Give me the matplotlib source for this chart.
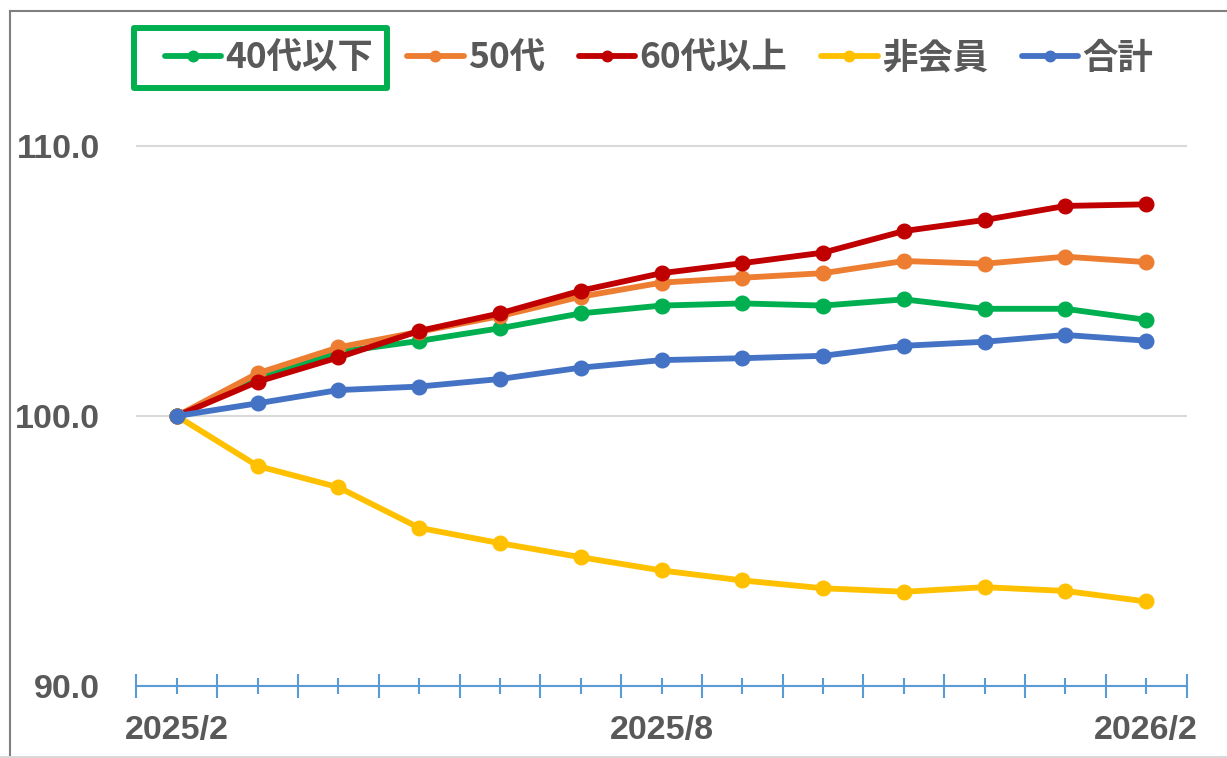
import matplotlib
matplotlib.use("Agg")
import matplotlib.pyplot as plt
import matplotlib.patches as patches
from matplotlib.lines import Line2D
from matplotlib.font_manager import FontProperties
import numpy as np

# ---- data ----
months = ['2025/2', '2025/3', '2025/4', '2025/5', '2025/6', '2025/7', '2025/8',
          '2025/9', '2025/10', '2025/11', '2025/12', '2026/1', '2026/2']
under40 = [100.0, 101.4, 102.37, 102.78, 103.25, 103.80, 104.09,
           104.17, 104.09, 104.32, 103.97, 103.97, 103.56]
age50 = [100.0, 101.58, 102.54, 103.12, 103.70, 104.42, 104.94,
         105.12, 105.29, 105.74, 105.64, 105.90, 105.70]
over60 = [100.0, 101.27, 102.17, 103.15, 103.80, 104.64, 105.29,
          105.66, 106.05, 106.85, 107.26, 107.78, 107.84]
non_member = [100.0, 98.15, 97.36, 95.86, 95.29, 94.77, 94.28,
              93.91, 93.62, 93.49, 93.66, 93.52, 93.13]
total = [100.0, 100.47, 100.96, 101.09, 101.37, 101.79, 102.07,
         102.14, 102.23, 102.60, 102.75, 103.00, 102.79]

series_names = ['40代以下', '50代', '60代以上', '非会員', '合計']
series_values = [under40, age50, over60, non_member, total]
series_colors = ['#00B050', '#ED7D31', '#C00000', '#FFC000', '#4472C4']
y_ticks = [90, 100, 110]

TEXT = '#595959'
AXIS_BLUE = '#5B9BD5'

W, H = 1227, 758
fig = plt.figure(figsize=(W / 100, H / 100), dpi=100)
fig.patch.set_facecolor('white')

# plot area in pixels: x from 136 to 1186, y=90 at 686, y=112 at 92
ax = fig.add_axes([136.4 / W, (H - 686) / H, 1050.2 / W, 594 / H])

x = np.arange(len(months))
for name, vals, col in zip(series_names, series_values, series_colors):
    ax.plot(x, vals, color=col, lw=4.2, marker='o', markersize=10.5,
            solid_joinstyle='round', solid_capstyle='round', label=name)

ax.set_xlim(-0.5, len(months) - 0.5)
ax.set_ylim(90, 112)

# y axis
ax.set_yticks(y_ticks, labels=[f'{v:.1f}' for v in y_ticks])
ax.tick_params(axis='y', length=0, pad=26, labelsize=24.5, labelcolor=TEXT)
for lab in ax.get_yticklabels():
    lab.set_fontfamily('Liberation Sans')
    lab.set_fontweight('bold')
ax.grid(axis='y', color='#D9D9D9', lw=1.5)

# x axis: major ticks on category edges, minor ticks at categories
ax.set_xticks(np.arange(-0.5, len(months), 1.0), labels=[])
xlabels = [m if i % 6 == 0 else '' for i, m in enumerate(months)]
ax.set_xticks(x, labels=xlabels, minor=True)
ax.tick_params(axis='x', which='major', direction='inout', length=17,
               width=1.5, color=AXIS_BLUE)
ax.tick_params(axis='x', which='minor', direction='inout', length=11.5,
               width=1.5, color=AXIS_BLUE, pad=15, labelsize=24.5,
               labelcolor=TEXT)
for lab in ax.get_xticklabels(minor=True):
    lab.set_fontfamily('Liberation Sans')
    lab.set_fontweight('bold')

for s in ['left', 'top', 'right']:
    ax.spines[s].set_visible(False)
ax.spines['bottom'].set_color(AXIS_BLUE)
ax.spines['bottom'].set_linewidth(1.5)

# legend
leg_font = FontProperties(family=['Noto Sans CJK JP', 'DejaVu Sans'],
                          size=25.5, weight='bold')
leg = ax.legend(ncol=5, loc='center', bbox_to_anchor=(659 / W, 1 - 58 / H),
                bbox_transform=fig.transFigure, frameon=False, prop=leg_font,
                handlelength=1.6, handletextpad=0.12, columnspacing=0.95,
                markerscale=0.72, labelcolor=TEXT, borderaxespad=0)

# green highlight box around the first legend entry
fig.canvas.draw()
r = fig.canvas.get_renderer()
hb = leg.legend_handles[0].get_window_extent(r)
tb = leg.get_texts()[0].get_window_extent(r)
cy = (tb.y0 + tb.y1) / 2
x0, x1 = hb.x0 - 25, tb.x1 + 14
y0, y1 = cy - 29.5, cy + 29.5
fig.patches.append(patches.Rectangle((x0 / W, y0 / H), (x1 - x0) / W, (y1 - y0) / H,
                                     transform=fig.transFigure, fill=False,
                                     edgecolor='#00B050', lw=4.3, joinstyle='round'))

# outer chart frame
fig.add_artist(Line2D([9.5 / W, 9.5 / W], [0, 1 - 11 / H], transform=fig.transFigure,
                      color='#7F7F7F', lw=1.5))
fig.add_artist(Line2D([9.5 / W, 1], [1 - 11 / H, 1 - 11 / H], transform=fig.transFigure,
                      color='#7F7F7F', lw=1.5))
fig.add_artist(Line2D([0, 1], [1.5 / H, 1.5 / H], transform=fig.transFigure,
                      color='#D9D9D9', lw=1.5))

fig.savefig('out.png', dpi=100)
